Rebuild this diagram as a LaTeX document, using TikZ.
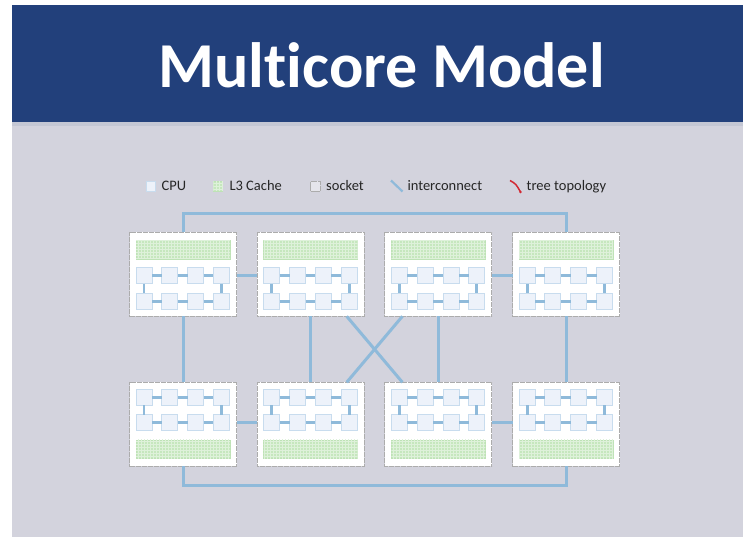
\documentclass[tikz,border=0pt]{standalone}
\usepackage{fontspec}
\setmainfont{Carlito}[Ligatures=NoCommon]
\usetikzlibrary{calc,patterns}
\definecolor{hdr}{RGB}{34,64,123}
\definecolor{bodybg}{RGB}{211,211,221}
\definecolor{band}{RGB}{196,199,212}
\definecolor{linkc}{RGB}{143,186,218}
\definecolor{cpufill}{RGB}{237,242,250}
\definecolor{cpudraw}{RGB}{200,220,238}
\definecolor{cachefill}{RGB}{198,231,190}
\definecolor{cachedraw}{RGB}{190,226,182}
\definecolor{cachegrid}{RGB}{222,241,218}
\definecolor{treered}{RGB}{210,40,50}
\begin{document}
\begin{tikzpicture}[x=1pt,y=-1pt,
  socketbox/.style={draw=gray!65, dash pattern=on 0.6pt off 0.6pt, line width=0.9pt, fill=white,
    minimum width=107pt, minimum height=84pt, inner sep=0, outer sep=0, anchor=north west},
  cpubox/.style={draw=cpudraw, fill=cpufill, line width=1pt, minimum size=16pt, inner sep=0, outer sep=0},
  cachebox/.style={draw=cachedraw, fill=cachefill, line width=0.6pt, inner sep=0, outer sep=0,
    postaction={pattern=grid, pattern color=cachegrid}},
  wire/.style={draw=linkc, line width=3pt},
  ring/.style={draw=linkc, line width=2.8pt},
  legendtxt/.style={font=\fontsize{14.5}{16}\selectfont, text=black!85, anchor=base west, inner sep=0}]
\useasboundingbox (0,0) rectangle (743,537);
% slide background
\fill[white] (0,0) rectangle (743,537);
\fill[bodybg] (12,5) rectangle (743,537);
\fill[band] (12,122) rectangle (743,126);
\fill[hdr] (12,5) rectangle (743,122);
\node[font=\fontsize{64}{64}\selectfont\bfseries, text=white, anchor=base, inner sep=0] (title) at (381.7,87.5) {Multicore Model};

% legend
\node[cpubox, minimum size=9.5pt, line width=0.8pt] (lgcpu) at (151,186.2) {};
\node[legendtxt] (lgcputxt) at (161.5,191) {CPU};
\node[cachebox, minimum size=9.5pt] (lgl3) at (218,186.2) {};
\node[legendtxt] (lgl3txt) at (229.3,191) {L3 Cache};
\node[draw=gray!65, dash pattern=on 0.6pt off 0.5pt, line width=0.7pt, fill=white!40!bodybg, minimum size=9.5pt, inner sep=0] (lgsock) at (315.3,186.2) {};
\node[legendtxt] (lgsocktxt) at (326,191) {socket};
\coordinate (lgi1) at (391,180.5);
\coordinate (lgi2) at (402.5,191.5);
\draw[draw=linkc, line width=2.2pt] (lgi1) -- (lgi2);
\node[legendtxt] (lgitxt) at (407.3,191) {interconnect};
\coordinate (lgt1) at (510,180.5);
\coordinate (lgt2) at (520.5,192);
\draw[draw=treered, line width=1.5pt] (lgt1) .. controls (516,184) .. (lgt2);
\fill[treered] (lgt2) circle (1.4pt);
\node[legendtxt] (lgttxt) at (526.5,191) {tree topology};

% top-row sockets
\foreach \i/\xx in {1/129.5,2/257.2,3/384.9,4/512.6}{
  \node[socketbox] (s\i) at (\xx,232.3) {};
  \node[cachebox, minimum width=94pt, minimum height=18.5pt, anchor=north west] (s\i-l3) at (\xx+6.5,240.3) {};
  \foreach \c in {1,2,3,4}{
    \node[cpubox] (s\i-1-\c) at (\xx+14.5+25.8*\c-25.8,275.8) {};
    \node[cpubox] (s\i-2-\c) at (\xx+14.5+25.8*\c-25.8,301.3) {};
  }
  \foreach \r in {1,2}{
    \draw[ring] (s\i-\r-1) -- (s\i-\r-2);
    \draw[ring] (s\i-\r-2) -- (s\i-\r-3);
    \draw[ring] (s\i-\r-3) -- (s\i-\r-4);
  }
  \draw[ring] (s\i-1-1) -- (s\i-2-1);
  \draw[ring] (s\i-1-4) -- (s\i-2-4);
}
% bottom-row sockets
\foreach \i/\xx in {5/129.5,6/257.2,7/384.9,8/512.6}{
  \node[socketbox] (s\i) at (\xx,382.3) {};
  \node[cachebox, minimum width=94pt, minimum height=18.5pt, anchor=north west] (s\i-l3) at (\xx+6.5,439.8) {};
  \foreach \c in {1,2,3,4}{
    \node[cpubox] (s\i-1-\c) at (\xx+14.5+25.8*\c-25.8,397.3) {};
    \node[cpubox] (s\i-2-\c) at (\xx+14.5+25.8*\c-25.8,422.8) {};
  }
  \foreach \r in {1,2}{
    \draw[ring] (s\i-\r-1) -- (s\i-\r-2);
    \draw[ring] (s\i-\r-2) -- (s\i-\r-3);
    \draw[ring] (s\i-\r-3) -- (s\i-\r-4);
  }
  \draw[ring] (s\i-1-1) -- (s\i-2-1);
  \draw[ring] (s\i-1-4) -- (s\i-2-4);
}

% interconnect
\draw[wire] (s1.north) |- ($(s4.north)+(0,-19)$) -- (s4.north);
\draw[wire] (s5.south) |- ($(s8.south)+(0,18.7)$) -- (s8.south);
\foreach \a/\b in {1/5,2/6,3/7,4/8}{
  \draw[wire] (s\a.south) -- (s\b.north);
}
\draw[wire] (s1-1-4 -| s1.east) -- (s2-1-1 -| s2.west);
\draw[wire] (s3-1-4 -| s3.east) -- (s4-1-1 -| s4.west);
\draw[wire] (s5-2-4 -| s5.east) -- (s6-2-1 -| s6.west);
\draw[wire] (s7-2-4 -| s7.east) -- (s8-2-1 -| s8.west);
\draw[wire] ($(s2.south)+(36,0)$) -- ($(s7.north)+(-36,0)$);
\draw[wire] ($(s3.south)+(-36,0)$) -- ($(s6.north)+(36,0)$);
\end{tikzpicture}
\end{document}
